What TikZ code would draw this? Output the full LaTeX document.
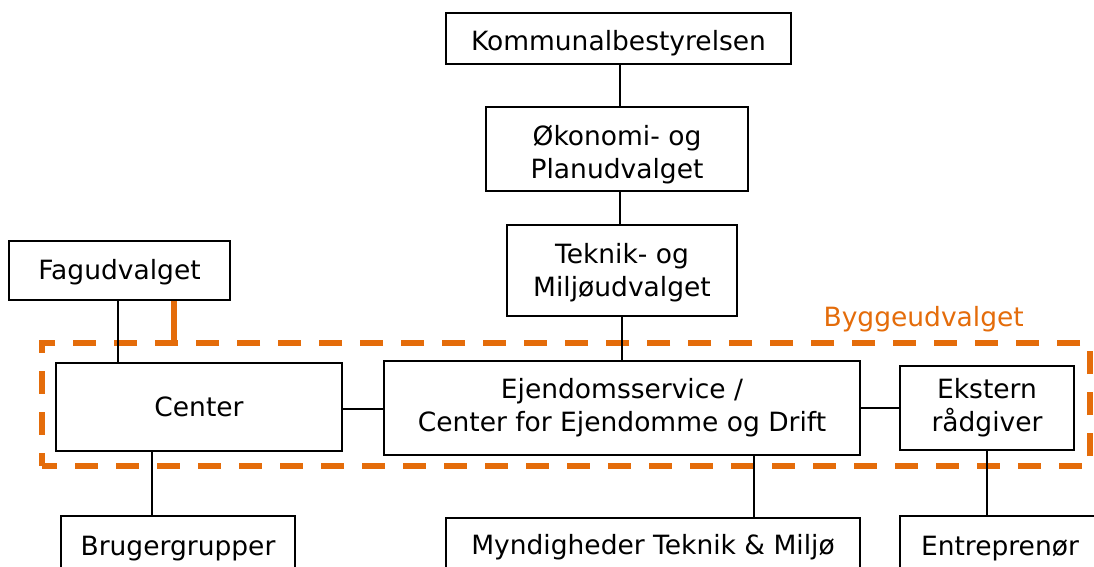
\documentclass[tikz,border=0pt]{standalone}
\usepackage{fontspec}
\setmainfont{DejaVu Sans}
\definecolor{borange}{HTML}{E46C0A}
\begin{document}
\begin{tikzpicture}[x=1pt,y=-1pt,
  box/.style={draw=black,line width=1.6pt,fill=white,inner sep=0pt,align=center,
    font=\fontsize{26.5}{33}\selectfont},
  conn/.style={draw=black,line width=1.5pt},
  bygbox/.style={draw=borange,line width=6.5pt,dash pattern=on 23pt off 18pt,dash phase=8pt,inner sep=0pt},
  stub/.style={draw=borange,line width=6pt},
  lbl/.style={text=borange,font=\fontsize{26.5}{33}\selectfont,inner sep=0pt}]
\clip (0,0) rectangle (1094,567);
\useasboundingbox (0,0) rectangle (1094,567);
\fill[white] (0,0) rectangle (1094,567);

\node[bygbox,minimum width=1048pt,minimum height=123pt] (bygg) at (566,404.5) {};
\node[lbl,anchor=east] (bygglbl) at (1024,319) {Byggeudvalget};

\node[box,minimum width=345pt,minimum height=51pt] (kom) at (618.5,38.5) {\rule{0pt}{30pt}Kommunalbestyrelsen};
\node[box,minimum width=262pt,minimum height=84pt] (oko) at (617,149) {\rule{0pt}{31pt}Økonomi- og\\Planudvalget};
\node[box,minimum width=230pt,minimum height=91pt] (tek) at (622,270.5) {\rule{0pt}{24pt}Teknik- og\\Miljøudvalget};
\node[box,minimum width=221pt,minimum height=59pt] (fag) at (119.5,270.5) {\rule{0pt}{23pt}Fagudvalget};
\node[box,minimum width=286pt,minimum height=88pt] (cen) at (199,407) {Center};
\node[box,minimum width=476pt,minimum height=94pt] (ejd) at (622,408) {Ejendomsservice /\\Center for Ejendomme og Drift};
\node[box,minimum width=174pt,minimum height=84pt] (eks) at (987,408) {Ekstern\\rådgiver};
\node[box,minimum width=234pt,minimum height=58pt] (bru) at (178,545) {\rule{0pt}{26pt}Brugergrupper};
\node[box,minimum width=414pt,minimum height=58pt] (myn) at (653,547) {Myndigheder Teknik \& Miljø};
\node[box,minimum width=210pt,minimum height=58pt,text width=210pt,align=left] (ent) at (1005,545) {\rule{0pt}{26pt}\hspace*{21pt}Entreprenør};

\coordinate (x1) at (620,0);
\coordinate (x2) at (622,0);
\coordinate (x3) at (118,0);
\coordinate (x4) at (152,0);
\coordinate (x5) at (754,0);
\coordinate (x6) at (987,0);
\coordinate (x7) at (174,0);
\coordinate (y1) at (0,409);
\coordinate (y2) at (0,408);

\draw[conn] (kom.south -| x1) -- (oko.north -| x1);
\draw[conn] (oko.south -| x1) -- (tek.north -| x1);
\draw[conn] (tek.south -| x2) -- (ejd.north -| x2);
\draw[conn] (fag.south -| x3) -- (cen.north -| x3);
\draw[conn] (cen.east |- y1) -- (ejd.west |- y1);
\draw[conn] (ejd.east |- y2) -- (eks.west |- y2);
\draw[conn] (cen.south -| x4) -- (bru.north -| x4);
\draw[conn] (ejd.south -| x5) -- (myn.north -| x5);
\draw[conn] (eks.south -| x6) -- (ent.north -| x6);
\draw[stub] (fag.south -| x7) -- (bygg.north -| x7);
\end{tikzpicture}
\end{document}
